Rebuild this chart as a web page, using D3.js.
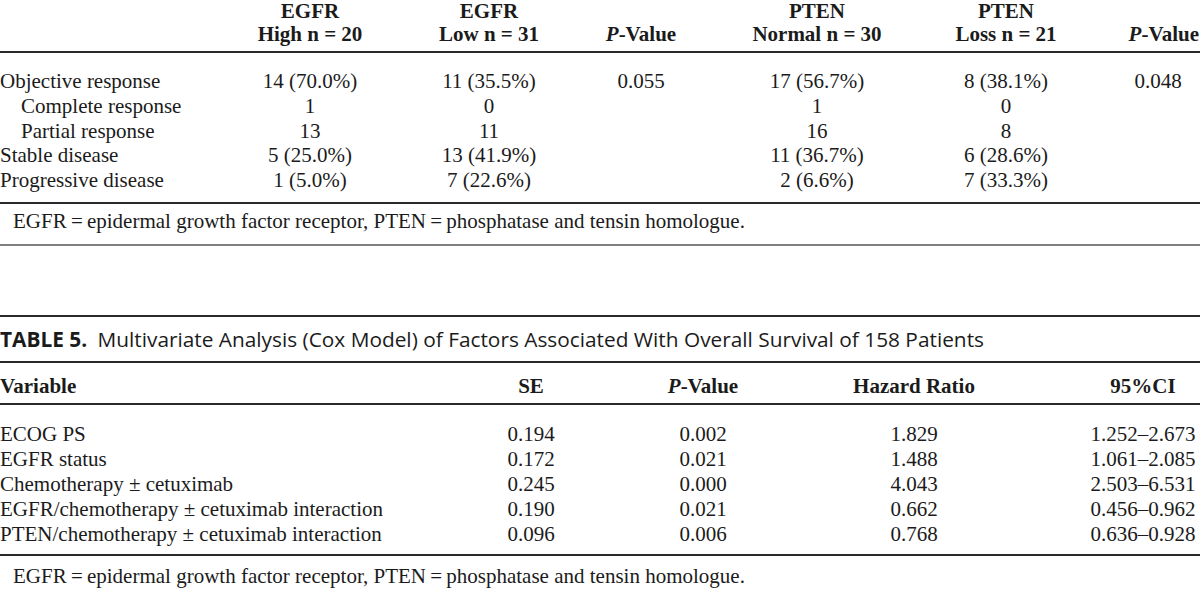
<!DOCTYPE html>
<html><head><meta charset="utf-8">
<script src="https://cdn.jsdelivr.net/npm/d3@7"></script>
<style>
html,body{margin:0;padding:0;background:#fff;}
svg{display:block;}
</style></head><body>
<svg id="chart" width="1200" height="589"></svg>
<script>
// ---------- Table 4 (response by EGFR / PTEN status) ----------
const t4Groups   = ["EGFR", "EGFR", "", "PTEN", "PTEN", ""];
const t4Subheads = ["High n = 20", "Low n = 31", "P-Value", "Normal n = 30", "Loss n = 21", "P-Value"];
const t4Rows     = ["Objective response", "Complete response", "Partial response", "Stable disease", "Progressive disease"];
const t4Indent   = [false, true, true, false, false];
const egfrHigh   = ["14 (70.0%)", "1", "13", "5 (25.0%)", "1 (5.0%)"];
const egfrLow    = ["11 (35.5%)", "0", "11", "13 (41.9%)", "7 (22.6%)"];
const egfrP      = ["0.055", "", "", "", ""];
const ptenNormal = ["17 (56.7%)", "1", "16", "11 (36.7%)", "2 (6.6%)"];
const ptenLoss   = ["8 (38.1%)", "0", "8", "6 (28.6%)", "7 (33.3%)"];
const ptenP      = ["0.048", "", "", "", ""];
const footnote   = "EGFR\u2009=\u2009epidermal growth factor receptor, PTEN\u2009=\u2009phosphatase and tensin homologue.";

// ---------- Table 5 (Cox model) ----------
const t5Label    = "TABLE 5.";
const t5Caption  = "Multivariate Analysis (Cox Model) of Factors Associated With Overall Survival of 158 Patients";
const t5Headers  = ["Variable", "SE", "P-Value", "Hazard Ratio", "95%CI"];
const t5Variables = ["ECOG PS", "EGFR status", "Chemotherapy \u00b1 cetuximab",
                     "EGFR/chemotherapy \u00b1 cetuximab interaction",
                     "PTEN/chemotherapy \u00b1 cetuximab interaction"];
const t5SE = ["0.194", "0.172", "0.245", "0.190", "0.096"];
const t5P  = ["0.002", "0.021", "0.000", "0.021", "0.006"];
const t5HR = ["1.829", "1.488", "4.043", "0.662", "0.768"];
const t5CI = ["1.252\u20132.673", "1.061\u20132.085", "2.503\u20136.531", "0.456\u20130.962", "0.636\u20130.928"];

const SERIF = "'Liberation Serif', 'Times New Roman', serif";
const SANS  = "'Open Sans', 'Noto Sans', sans-serif";
const FS = 21;
const INK = "#1b1b1b";

const svg = d3.select("#chart");

function rule(y, w, col) {
  svg.append("line").attr("x1", 0).attr("x2", 1200).attr("y1", y).attr("y2", y)
    .attr("stroke", col || "#2a2a2a").attr("stroke-width", w);
}
function pValueHeader(sel) {
  sel.append("tspan").attr("font-style", "italic").text("P");
  sel.append("tspan").text("-Value");
}

// ---- Table 4 ----
const t4Cols = [egfrHigh, egfrLow, egfrP, ptenNormal, ptenLoss, ptenP];
const t4x = d3.scaleOrdinal().domain(d3.range(6)).range([310, 489, 641, 817, 1006, 1158]);
const t4y = d3.scalePoint().domain(t4Rows).range([88, 187]);

const h4 = svg.append("g").attr("font-family", SERIF).attr("font-size", FS)
  .attr("font-weight", "bold").attr("fill", INK).attr("text-anchor", "middle");
h4.selectAll("text.g1").data(t4Groups).join("text").attr("class", "g1")
  .attr("x", (d, i) => t4x(i)).attr("y", 18).text(d => d);
h4.selectAll("text.g2").data(t4Subheads).join("text").attr("class", "g2")
  .attr("x", (d, i) => i === 5 ? 1199 : t4x(i))
  .attr("text-anchor", (d, i) => i === 5 ? "end" : "middle")
  .attr("y", 41)
  .each(function (d) { const s = d3.select(this); if (d === "P-Value") pValueHeader(s); else s.text(d); });

rule(52, 2);

const b4 = svg.append("g").attr("font-family", SERIF).attr("font-size", FS).attr("fill", INK);
b4.selectAll("text.lab").data(t4Rows).join("text").attr("class", "lab")
  .attr("x", (d, i) => t4Indent[i] ? 21 : 0).attr("y", d => t4y(d)).text(d => d);
t4Cols.forEach((col, ci) => {
  b4.selectAll("text.c" + ci).data(col).join("text").attr("class", "c" + ci)
    .attr("text-anchor", "middle").attr("x", t4x(ci))
    .attr("y", (d, i) => t4y(t4Rows[i])).text(d => d);
});

rule(203, 2);
svg.append("text").attr("font-family", SERIF).attr("font-size", FS).attr("fill", INK)
  .attr("x", 13).attr("y", 228).text(footnote);
rule(245, 1.5, "#555");

// ---- Table 5 ----
rule(316, 2);
const title = svg.append("text").attr("font-family", SANS).attr("font-size", 20).attr("fill", INK)
  .attr("x", 0).attr("y", 347);
title.append("tspan").attr("font-weight", "bold").text(t5Label);
title.append("tspan").text("\u2002" + t5Caption);
const tw = title.node().getComputedTextLength();
title.attr("font-size", 20 * 985 / tw);

rule(362, 2);

const t5Cols = [t5SE, t5P, t5HR, t5CI];
const t5x = d3.scaleOrdinal().domain(t5Headers.slice(1)).range([531, 703, 914, 1143]);
const t5y = d3.scalePoint().domain(t5Variables).range([441, 541]);

const h5 = svg.append("g").attr("font-family", SERIF).attr("font-size", FS)
  .attr("font-weight", "bold").attr("fill", INK);
h5.selectAll("text").data(t5Headers).join("text")
  .attr("x", (d, i) => i === 0 ? 0 : t5x(d))
  .attr("text-anchor", (d, i) => i === 0 ? "start" : "middle")
  .attr("y", 393)
  .each(function (d) { const s = d3.select(this); if (d === "P-Value") pValueHeader(s); else s.text(d); });

rule(404, 2);

const b5 = svg.append("g").attr("font-family", SERIF).attr("font-size", FS).attr("fill", INK);
b5.selectAll("text.lab").data(t5Variables).join("text").attr("class", "lab")
  .attr("x", 0).attr("y", d => t5y(d)).text(d => d);
t5Cols.forEach((col, ci) => {
  b5.selectAll("text.c" + ci).data(col).join("text").attr("class", "c" + ci)
    .attr("text-anchor", "middle").attr("x", t5x(t5Headers[ci + 1]))
    .attr("y", (d, i) => t5y(t5Variables[i])).text(d => d);
});

rule(555, 2);
svg.append("text").attr("font-family", SERIF).attr("font-size", FS).attr("fill", INK)
  .attr("x", 13).attr("y", 583).text(footnote);
</script>
</body></html>
